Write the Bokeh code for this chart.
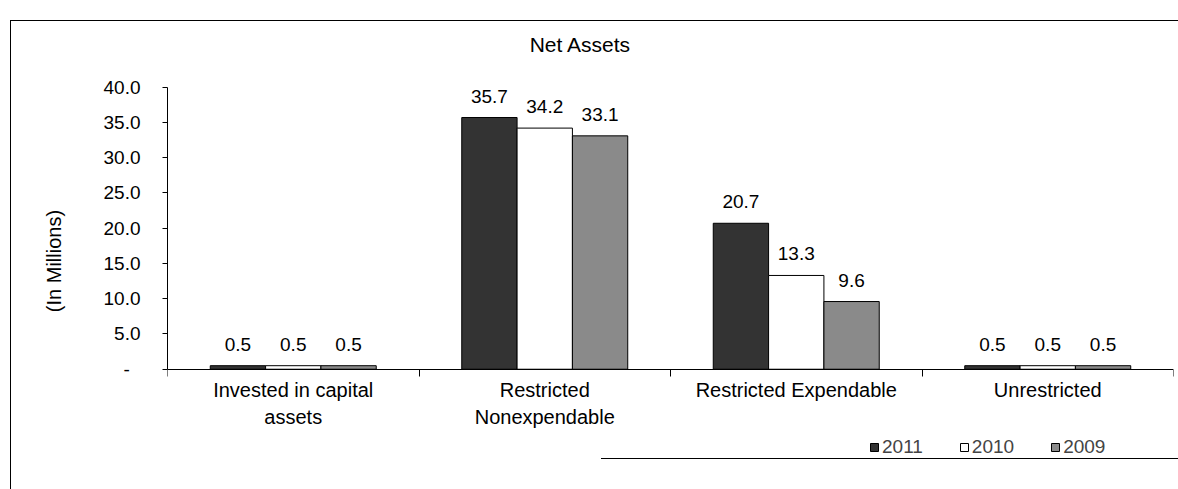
from bokeh.plotting import figure
from bokeh.models import ColumnDataSource, Range1d, FixedTicker, Legend, LegendItem, Label
from bokeh.embed import file_html
from bokeh.resources import INLINE
from bokeh.core.properties import value

# ---- data ----
categories = ["Invested in capital\nassets", "Restricted\nNonexpendable",
              "Restricted Expendable", "Unrestricted"]
years = ["2011", "2010", "2009"]
values_2011 = [0.5, 35.7, 20.7, 0.5]
values_2010 = [0.5, 34.2, 13.3, 0.5]
values_2009 = [0.5, 33.1, 9.6, 0.5]
y_ticks = [0, 5, 10, 15, 20, 25, 30, 35, 40]
y_tick_labels = ["-\u00a0\u00a0", "5.0", "10.0", "15.0", "20.0", "25.0", "30.0", "35.0", "40.0"]

series = [values_2011, values_2010, values_2009]
colors = ["#333333", "#ffffff", "#8a8a8a"]
offsets = [-0.22, 0.0, 0.22]
bar_width = 0.22
FONT = "Liberation Sans"

p = figure(width=1168, height=469, x_range=Range1d(0, 4), y_range=Range1d(-17.2, 47.9),
           output_backend="svg", toolbar_location=None,
           min_border_left=156, min_border_right=6, min_border_top=10, min_border_bottom=0,
           margin=(20, 0, 0, 10))
p.styles = {"border-top": "1px solid black", "border-left": "1px solid black",
            "background": "linear-gradient(black, black) no-repeat",
            "background-size": "578px 1px",
            "background-position": "590px 437px"}
p.border_fill_color = None
p.background_fill_color = None
p.outline_line_color = None
p.grid.visible = False

items = []
for yr, vals, col, off in zip(years, series, colors, offsets):
    xs = [i + 0.5 + off for i in range(len(categories))]
    src = ColumnDataSource(dict(x=xs, top=vals, lab=["%.1f" % v for v in vals]))
    r = p.vbar(x="x", top="top", width=bar_width, bottom=0, source=src,
               fill_color=col, line_color="black", line_width=1)
    p.text(x="x", y="top", text="lab", source=src, text_align="center",
           text_baseline="bottom", y_offset=-15, text_font=value(FONT),
           text_font_size="19px", text_color="black")
    items.append(LegendItem(label=yr, renderers=[r]))

# y axis (line only from 0 to 40)
yax = p.yaxis[0]
yax.bounds = (0, 40)
yax.ticker = FixedTicker(ticks=y_ticks, minor_ticks=[])
yax.major_label_overrides = {t: l for t, l in zip(y_ticks, y_tick_labels)}
yax.major_tick_in = 0
yax.major_tick_out = 5
yax.minor_tick_line_color = None
yax.major_label_standoff = 22
yax.major_label_text_font = FONT
yax.major_label_text_font_size = "19px"
yax.major_label_text_color = "black"
yax.axis_line_color = "black"
yax.axis_label = "(In Millions)"
yax.axis_label_text_font = FONT
yax.axis_label_text_font_size = "20px"
yax.axis_label_text_font_style = "normal"
yax.axis_label_text_color = "black"
yax.axis_label_standoff = 36

# x axis drawn at y = 0 inside the frame; labels at centres, ticks at boundaries
xax = p.xaxis[0]
xax.fixed_location = 0
xax.ticker = FixedTicker(ticks=[i + 0.5 for i in range(len(categories))],
                         minor_ticks=list(range(len(categories) + 1)))
xax.major_label_overrides = {i + 0.5: c for i, c in enumerate(categories)}
xax.major_tick_line_color = None
xax.minor_tick_line_color = "black"
xax.minor_tick_in = 0
xax.minor_tick_out = 7
xax.major_label_standoff = 3
xax.major_label_text_font = FONT
xax.major_label_text_font_size = "20px"
xax.major_label_text_color = "black"
xax.axis_line_color = "black"

# title
p.add_layout(Label(x=1.642, y=46.1, text="Net Assets", text_align="center",
                   text_baseline="middle", text_font=FONT, text_font_size="21px",
                   text_color="black"))

legend = Legend(items=items, orientation="horizontal", location=(702, 32),
                glyph_width=10, glyph_height=10, label_standoff=3, spacing=36,
                padding=0, margin=0, label_height=20,
                label_text_font=FONT, label_text_font_size="19px",
                border_line_color=None, background_fill_color=None)
p.add_layout(legend, "center")

open("out.html", "w").write(file_html(p, INLINE))
